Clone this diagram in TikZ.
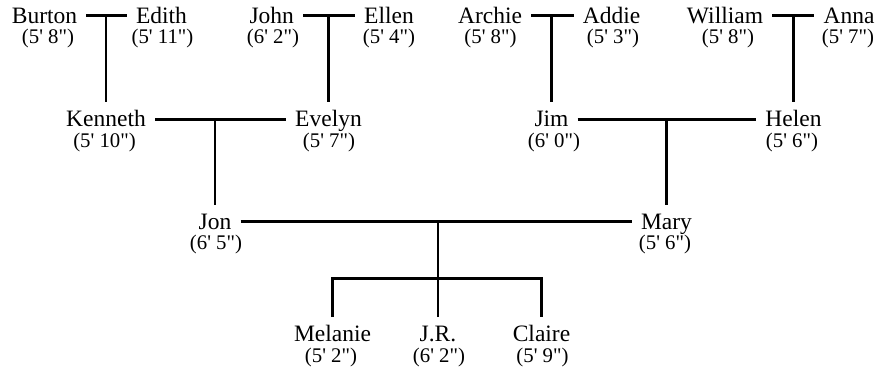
\documentclass[tikz,border=0pt]{standalone}
\usepackage{fontspec}
\newfontfamily\tnr{Liberation Serif}
\begin{document}
\begin{tikzpicture}[x=1pt,y=-1pt,
  nm/.style={font=\tnr\fontsize{23.5}{24}\selectfont, inner xsep=9pt, inner ysep=8.5pt,
             text height=16pt, text depth=1pt, anchor=base},
  ht/.style={font=\tnr\fontsize{20.8}{22}\selectfont, inner sep=0pt, anchor=base},
  ln/.style={line width=2.8pt}]
\useasboundingbox (0,0) rectangle (879,369);
% top row
\node[nm] (burton)  at (44.5,23.3) {Burton};  \node[ht] (burtonH)  at (48,43.8)  {(5' 8")};
\node[nm] (edith)   at (161.5,23.3) {Edith};  \node[ht] (edithH)   at (162.5,43.8) {(5' 11")};
\node[nm] (john)    at (271.7,23.3) {John};   \node[ht] (johnH)    at (273,43.8) {(6' 2")};
\node[nm] (ellen)   at (389,23.3) {Ellen};    \node[ht] (ellenH)   at (389,43.8) {(5' 4")};
\node[nm] (archie)  at (490,23.3) {Archie};   \node[ht] (archieH)  at (490.5,43.8) {(5' 8")};
\node[nm] (addie)   at (611.5,23.3) {Addie};  \node[ht] (addieH)   at (613,43.8) {(5' 3")};
\node[nm] (william) at (725,23.3) {William};  \node[ht] (williamH) at (728,43.8) {(5' 8")};
\node[nm] (anna)    at (849,23.3) {Anna};     \node[ht] (annaH)    at (848,43.8) {(5' 7")};
% second row
\node[nm] (kenneth) at (106,126.7) {Kenneth}; \node[ht] (kennethH) at (104.5,147.2) {(5' 10")};
\node[nm] (evelyn)  at (328.5,126.7) {Evelyn};\node[ht] (evelynH)  at (329,147.2) {(5' 7")};
\node[nm] (jim)     at (551.5,126.7) {Jim};   \node[ht] (jimH)     at (554,147.2) {(6' 0")};
\node[nm] (helen)   at (793.5,126.7) {Helen}; \node[ht] (helenH)   at (792,147.2) {(5' 6")};
% third row
\node[nm] (jon)     at (215,229.3) {Jon};     \node[ht] (jonH)     at (216,249.8) {(6' 5")};
\node[nm] (mary)    at (666.5,229.3) {Mary};  \node[ht] (maryH)    at (665,249.8) {(5' 6")};
% children
\node[nm] (melanie) at (332.5,341.7) {Melanie}; \node[ht] (melanieH) at (331,362.8) {(5' 2")};
\node[nm] (jr)      at (438,341.7) {J.R.};      \node[ht] (jrH)      at (439,362.8) {(6' 2")};
\node[nm] (claire)  at (541.5,341.7) {Claire};  \node[ht] (claireH)  at (542.5,362.8) {(5' 9")};
% couples
\draw[ln] (burton.east) -- (edith.west);
\draw[ln] (john.east) -- (ellen.west);
\draw[ln] (archie.east) -- (addie.west);
\draw[ln] (william.east) -- (anna.west);
\draw[ln] (kenneth.east) -- (evelyn.west);
\draw[ln] (jim.east) -- (helen.west);
\draw[ln] (jon.east) -- (mary.west);
% descent
\draw[ln] (kenneth.north) -- (kenneth.north |- burton.east);
\draw[ln] (evelyn.north) -- (evelyn.north |- john.east);
\draw[ln] (jim.north) -- (jim.north |- archie.east);
\draw[ln] (helen.north) -- (helen.north |- william.east);
\draw[ln] (jon.north) -- (jon.north |- kenneth.east);
\draw[ln] (mary.north) -- (mary.north |- jim.east);
\coordinate (fork) at (438,278.3);
\draw[ln] (jr.north) -- (jr.north |- jon.east);
\draw[ln] (melanie.north) -- (melanie.north |- fork) -- (claire.north |- fork) -- (claire.north);
\end{tikzpicture}
\end{document}
